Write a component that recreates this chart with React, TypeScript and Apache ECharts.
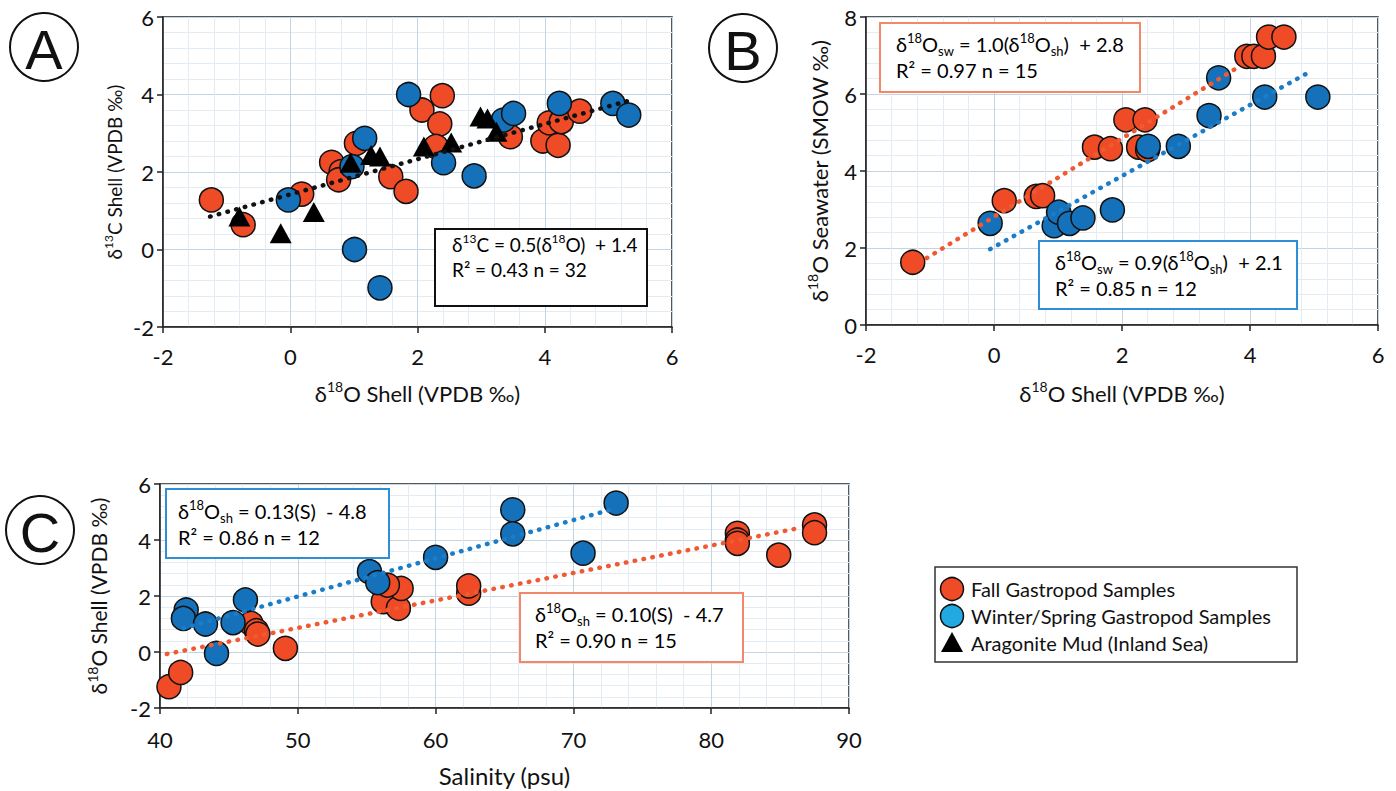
import React, { useEffect, useRef } from "react";
import * as echarts from "echarts";

// Panel A: δ18O shell (x) vs δ13C shell (y)
const fallA: number[][] = [
  [-1.24, 1.28], [-0.74, 0.64], [0.18, 1.43], [0.65, 2.25], [0.8, 2.01], [0.76, 1.8],
  [1.04, 2.74], [1.58, 1.88], [1.82, 1.5], [2.07, 3.6], [2.39, 3.97], [2.35, 3.24],
  [2.29, 2.66], [3.46, 2.91], [3.97, 2.8], [4.07, 3.27], [4.21, 2.69], [4.26, 3.3], [4.55, 3.57],
];
const winterA: number[][] = [
  [-0.03, 1.28], [1.01, 0.0], [1.41, -0.99], [0.97, 2.14], [1.17, 2.87], [1.86, 4.0],
  [2.41, 2.24], [2.89, 1.9], [3.35, 3.34], [3.51, 3.51], [4.23, 3.77], [5.07, 3.77], [5.32, 3.47],
];
const mudA: number[][] = [
  [-0.8, 0.85], [-0.15, 0.42], [0.37, 0.97], [0.95, 2.24], [1.27, 2.44], [1.41, 2.4],
  [2.1, 2.66], [2.53, 2.76], [2.99, 3.43], [3.1, 3.38], [3.24, 3.04],
];
const trendA: number[][] = [[-1.26, 0.85], [5.3, 3.83]];

// Panel B: δ18O shell (x) vs δ18O seawater (y)
const fallB: number[][] = [
  [-1.27, 1.63], [0.16, 3.23], [0.66, 3.34], [0.76, 3.36], [1.57, 4.62], [1.82, 4.58],
  [2.06, 5.33], [2.36, 5.33], [2.26, 4.62], [2.4, 4.55], [3.95, 6.98], [4.06, 6.98],
  [4.21, 6.98], [4.29, 7.48], [4.53, 7.48],
];
const winterB: number[][] = [
  [-0.06, 2.64], [0.94, 2.58], [1.01, 2.93], [1.18, 2.64], [1.39, 2.78], [1.85, 2.99],
  [2.41, 4.64], [2.88, 4.64], [3.36, 5.44], [3.51, 6.42], [4.23, 5.92], [5.06, 5.92],
];
const trendFallB: number[][] = [[-1.05, 1.74], [3.8, 6.68]];
const trendWinterB: number[][] = [[-0.06, 1.97], [4.97, 6.61]];

// Panel C: salinity (x) vs δ18O shell (y)
const fallC: number[][] = [
  [40.65, -1.24], [41.5, -0.73], [46.6, 1.02], [47.0, 0.76], [47.1, 0.64], [49.1, 0.13],
  [56.2, 1.8], [57.3, 1.56], [57.5, 2.27], [56.5, 2.39], [62.4, 2.1], [62.4, 2.36],
  [81.9, 4.24], [81.9, 4.0], [81.9, 3.88], [84.9, 3.46], [87.5, 4.54], [87.5, 4.26],
];
const winterC: number[][] = [
  [41.9, 1.5], [41.7, 1.2], [43.3, 1.0], [44.1, -0.05], [45.3, 1.05], [46.2, 1.86],
  [55.2, 2.87], [55.8, 2.48], [60.0, 3.38], [65.6, 5.08], [65.6, 4.22], [70.7, 3.53], [73.1, 5.32],
];
const trendFallC: number[][] = [[40.5, -0.07], [86.5, 4.44]];
const trendWinterC: number[][] = [[41.7, 0.85], [72.7, 5.08]];

const FALL = "#EE4B26";
const WINTER = "#1572BA";
const WINTER_LEGEND = "#22A9E1";
const FONT = "Lato";

const richBase = (size: number) => ({
  n: { fontSize: size, fontFamily: FONT, color: "#111", lineHeight: size + 6 },
  p: { fontSize: Math.round(size * 0.65), fontFamily: FONT, color: "#111", lineHeight: 16, verticalAlign: "top" },
  b: { fontSize: Math.round(size * 0.65), fontFamily: FONT, color: "#111", lineHeight: 16, verticalAlign: "bottom" },
});

function axis(min: number, max: number, interval: number, gridIndex: number, margin: number, extra: any = {}) {
  return {
    type: "value",
    gridIndex,
    min,
    max,
    interval,
    axisLine: { show: true, onZero: false, lineStyle: { color: "#222", width: 1.5 } },
    axisTick: { show: true, inside: false, length: 6, lineStyle: { color: "#222", width: 1.5 } },
    axisLabel: { color: "#111", fontSize: 22, fontFamily: FONT, margin },
    splitLine: { show: true, lineStyle: { color: "#C3D4E2", width: 1 } },
    minorTick: { show: false, splitNumber: 5 },
    minorSplitLine: { show: true, lineStyle: { color: "#E3ECF3", width: 1 } },
    ...extra,
  };
}

function scatter(data: number[][], idx: number, color: string, symbol = "circle", size: any = 24) {
  return {
    type: "scatter",
    xAxisIndex: idx,
    yAxisIndex: idx,
    data,
    symbol,
    symbolSize: size,
    itemStyle: { color, borderColor: "#111", borderWidth: symbol === "circle" ? 1.5 : 0, opacity: 1 },
    z: 3,
    silent: true,
  };
}

function trend(data: number[][], idx: number, color: string) {
  return {
    type: "line",
    xAxisIndex: idx,
    yAxisIndex: idx,
    data,
    symbol: "none",
    lineStyle: { color, width: 4.5, type: [0.5, 8.5], cap: "round" },
    z: 5,
    silent: true,
  };
}

function annot(x: number, y: number, w: number, h: number, stroke: string, tx: number, ty: number, text: string, size: number) {
  return [
    { type: "rect", shape: { x, y, width: w, height: h }, style: { fill: "#fff", stroke, lineWidth: 2 }, z: 10 },
    {
      type: "text",
      x: tx,
      y: ty,
      z: 11,
      style: { text, rich: richBase(size), align: "left", verticalAlign: "top" },
    },
  ];
}

function letter(cx: number, cy: number, ch: string) {
  return [
    { type: "circle", shape: { cx, cy, r: 34 }, style: { fill: "none", stroke: "#111", lineWidth: 2 }, z: 10 },
    {
      type: "text",
      x: cx,
      y: cy + 2,
      z: 11,
      style: { text: ch, font: "56px 'Liberation Sans'", fill: "#111", align: "center", verticalAlign: "middle" },
    },
  ];
}

export default function App() {
  const ref = useRef<HTMLDivElement>(null);
  useEffect(() => {
    if (!ref.current) return;
    const chart = echarts.init(ref.current, null, { renderer: "svg" });
    const gridStyle = { show: true, backgroundColor: "#fff", borderColor: "#222", borderWidth: 1.5, containLabel: false };
    const option: any = {
      animation: false,
      backgroundColor: "#fff",
      grid: [
        { ...gridStyle, left: 163, top: 17, width: 509, height: 310 },
        { ...gridStyle, left: 866, top: 17, width: 512, height: 308 },
        { ...gridStyle, left: 160, top: 484, width: 689, height: 224 },
      ],
      xAxis: [
        axis(-2, 6, 2, 0, 18, {
          name: "{n|δ}{p|18}{n|O Shell (VPDB ‰)}",
          nameLocation: "middle",
          nameGap: 52,
          nameTextStyle: { rich: richBase(22) },
        }),
        axis(-2, 6, 2, 1, 18, {
          name: "{n|δ}{p|18}{n|O Shell (VPDB ‰)}",
          nameLocation: "middle",
          nameGap: 54,
          nameTextStyle: { rich: richBase(22) },
        }),
        axis(40, 90, 10, 2, 20, {
          name: "{n|Salinity (psu)}",
          nameLocation: "middle",
          nameGap: 52,
          nameTextStyle: { rich: richBase(24) },
        }),
      ],
      yAxis: [
        axis(-2, 6, 2, 0, 9, {
          name: "{n|δ}{p|13}{n|C Shell (VPDB ‰)}",
          nameLocation: "middle",
          nameGap: 36,
          nameRotate: 90,
          nameTextStyle: { rich: richBase(19) },
        }),
        axis(0, 8, 2, 1, 9, {
          name: "{n|δ}{p|18}{n|O Seawater (SMOW ‰)}",
          nameLocation: "middle",
          nameGap: 33,
          nameRotate: 90,
          nameTextStyle: { rich: richBase(22) },
        }),
        axis(-2, 6, 2, 2, 9, {
          name: "{n|δ}{p|18}{n|O Shell (VPDB ‰)}",
          nameLocation: "middle",
          nameGap: 48,
          nameRotate: 90,
          nameTextStyle: { rich: richBase(21) },
        }),
      ],
      series: [
        scatter(fallA, 0, FALL),
        scatter(winterA, 0, WINTER),
        { ...scatter(mudA, 0, "#000", "triangle", [22, 20]), z: 4 },
        trend(trendA, 0, "#111"),
        scatter(fallB, 1, FALL),
        scatter(winterB, 1, WINTER),
        trend(trendFallB, 1, "#F05A32"),
        trend(trendWinterB, 1, "#1B7DC8"),
        scatter(fallC, 2, FALL),
        scatter(winterC, 2, WINTER),
        trend(trendFallC, 2, "#F05A32"),
        trend(trendWinterC, 2, "#1B7DC8"),
      ],
      graphic: [
        ...letter(44, 47, "A"),
        ...letter(743, 48, "B"),
        ...letter(40, 530, "C"),
        ...annot(435, 229, 212, 77, "#111", 452, 232, "{n|δ}{p|13}{n|C = 0.5(δ}{p|18}{n|O)  + 1.4}\n{n|R² = 0.43 n = 32}", 19),
        ...annot(880, 23, 260, 69, "#F4876A", 896, 31, "{n|δ}{p|18}{n|O}{b|sw}{n| = 1.0(δ}{p|18}{n|O}{b|sh}{n|)  + 2.8}\n{n|R² = 0.97 n = 15}", 20),
        ...annot(1039, 241, 258, 68, "#2E8FD6", 1055, 249, "{n|δ}{p|18}{n|O}{b|sw}{n| = 0.9(δ}{p|18}{n|O}{b|sh}{n|)  + 2.1}\n{n|R² = 0.85 n = 12}", 20),
        ...annot(166, 489, 223, 69, "#2E8FD6", 178, 498, "{n|δ}{p|18}{n|O}{b|sh}{n| = 0.13(S)  - 4.8}\n{n|R² = 0.86 n = 12}", 20),
        ...annot(520, 593, 223, 69, "#F4876A", 535, 601, "{n|δ}{p|18}{n|O}{b|sh}{n| = 0.10(S)  - 4.7}\n{n|R² = 0.90 n = 15}", 20),
        // legend
        { type: "rect", shape: { x: 935, y: 567, width: 362, height: 95 }, style: { fill: "#fff", stroke: "#333", lineWidth: 1.5 }, z: 10 },
        { type: "circle", shape: { cx: 952, cy: 589, r: 11.5 }, style: { fill: FALL, stroke: "#111", lineWidth: 1.5 }, z: 11 },
        { type: "circle", shape: { cx: 952, cy: 616, r: 11.5 }, style: { fill: WINTER_LEGEND, stroke: "#111", lineWidth: 1.5 }, z: 11 },
        { type: "polygon", shape: { points: [[952, 632], [941, 652], [963, 652]] }, style: { fill: "#000" }, z: 11 },
        { type: "text", x: 971, y: 589, z: 11, style: { text: "Fall Gastropod Samples", font: `20px ${FONT}`, fill: "#111", verticalAlign: "middle" } },
        { type: "text", x: 971, y: 616, z: 11, style: { text: "Winter/Spring Gastropod Samples", font: `20px ${FONT}`, fill: "#111", verticalAlign: "middle" } },
        { type: "text", x: 971, y: 643, z: 11, style: { text: "Aragonite Mud (Inland Sea)", font: `20px ${FONT}`, fill: "#111", verticalAlign: "middle" } },
      ],
    };
    chart.setOption(option);
    return () => chart.dispose();
  }, []);
  return <div ref={ref} style={{ position: "fixed", left: 0, top: 0, width: 1396, height: 791 }} />;
}
